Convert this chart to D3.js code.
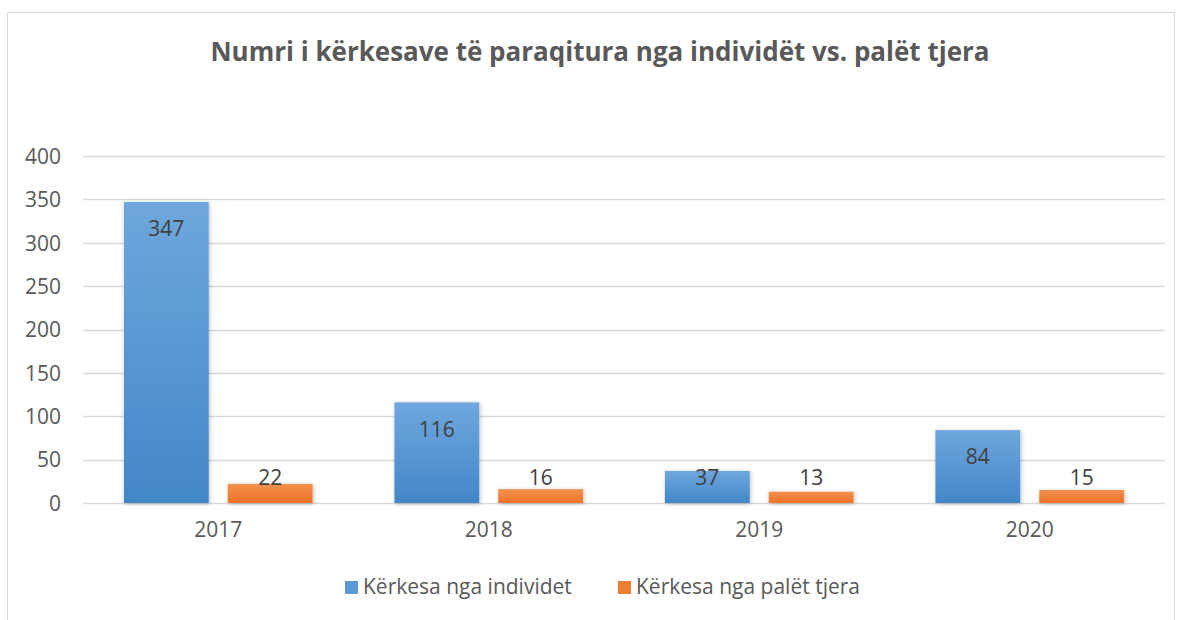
<!DOCTYPE html>
<html>
<head>
<meta charset="utf-8">
<script src="https://cdn.jsdelivr.net/npm/d3@7"></script>
<style>
body { margin: 0; background: #fff; }
text { font-family: "Open Sans", "Noto Sans", sans-serif; }
</style>
</head>
<body>
<svg id="chart" width="1177" height="620"></svg>
<script>
var years = ["2017", "2018", "2019", "2020"];
var individet = [347, 116, 37, 84];
var paleTjera = [22, 16, 13, 15];
var seriesNames = ["Kërkesa nga individet", "Kërkesa nga palët tjera"];
var yTicks = [0, 50, 100, 150, 200, 250, 300, 350, 400];

var svg = d3.select("#chart");
var plotLeft = 83, plotRight = 1165, plotTop = 156, plotBottom = 503;

// frame
svg.append("rect").attr("x", 7.5).attr("y", 12.5).attr("width", 1167).attr("height", 620)
	.attr("fill", "#fff").attr("stroke", "#d9d9d9");

var defs = svg.append("defs");
function grad(id, c1, c2) {
	var g = defs.append("linearGradient").attr("id", id).attr("x1", 0).attr("y1", 0).attr("x2", 0).attr("y2", 1);
	g.append("stop").attr("offset", "0%").attr("stop-color", c1);
	g.append("stop").attr("offset", "100%").attr("stop-color", c2);
}
grad("gBlue", "#6fa7dd", "#4287c8");
grad("gOrange", "#f3904f", "#ee7326");
var f = defs.append("filter").attr("id", "shadow").attr("x", "-20%").attr("y", "-20%").attr("width", "140%").attr("height", "140%");
f.append("feDropShadow").attr("dx", 1).attr("dy", 1).attr("stdDeviation", 2).attr("flood-color", "#000").attr("flood-opacity", 0.25);

var y = d3.scaleLinear().domain([0, 400]).range([plotBottom, plotTop]);
var x = d3.scaleBand().domain(years).range([plotLeft, plotRight]);
var inner = d3.scaleBand().domain([0, 1]).range([0, x.bandwidth()]).paddingInner(0.183).paddingOuter(0.394);

// title
svg.append("text").attr("x", 600).attr("y", 61).attr("text-anchor", "middle")
	.attr("font-size", 26).attr("font-weight", "bold").attr("fill", "#595959")
	.text("Numri i kërkesave të paraqitura nga individët vs. palët tjera");

// grid
svg.append("g").selectAll("line").data(yTicks).enter().append("line")
	.attr("x1", plotLeft).attr("x2", plotRight)
	.attr("y1", function(d) { return Math.round(y(d)) + 0.5; })
	.attr("y2", function(d) { return Math.round(y(d)) + 0.5; })
	.attr("stroke", "#d9d9d9").attr("stroke-width", 1.5);

var yAxis = svg.append("g").attr("transform", "translate(" + plotLeft + ",0)")
	.call(d3.axisLeft(y).tickValues(yTicks).tickSize(0).tickPadding(22));
yAxis.select(".domain").remove();
yAxis.selectAll("text").attr("font-size", 21).attr("fill", "#595959").attr("dy", "0.35em");

var xAxis = svg.append("g").attr("transform", "translate(0," + plotBottom + ")")
	.call(d3.axisBottom(x).tickSize(0).tickPadding(19));
xAxis.select(".domain").remove();
xAxis.selectAll("text").attr("font-size", 21).attr("fill", "#595959");

var series = [individet, paleTjera];
var fills = ["url(#gBlue)", "url(#gOrange)"];
series.forEach(function(vals, s) {
	var g = svg.append("g");
	g.selectAll("rect").data(vals).enter().append("rect")
		.attr("x", function(d, i) { return x(years[i]) + inner(s); })
		.attr("y", function(d) { return y(d); })
		.attr("width", inner.bandwidth())
		.attr("height", function(d) { return y(0) - y(d); })
		.attr("fill", fills[s])
		.attr("filter", "url(#shadow)");
	g.selectAll("text").data(vals).enter().append("text")
		.attr("x", function(d, i) { return x(years[i]) + inner(s) + inner.bandwidth() / 2; })
		.attr("y", function(d) { return Math.min(y(d) + 27, y(0) - 25); })
		.attr("dy", "0.35em")
		.attr("text-anchor", "middle").attr("font-size", 21).attr("fill", "#404040")
		.text(function(d) { return d; });
});

// legend
var legX = [345, 618];
var lg = svg.append("g");
seriesNames.forEach(function(name, i) {
	lg.append("rect").attr("x", legX[i]).attr("y", 581).attr("width", 13).attr("height", 13)
		.attr("fill", i === 0 ? "#5b9bd5" : "#ed7d31");
	lg.append("text").attr("x", legX[i] + 18).attr("y", 587).attr("dy", "0.35em")
		.attr("font-size", 21).attr("fill", "#595959").text(name);
});
</script>
</body>
</html>
